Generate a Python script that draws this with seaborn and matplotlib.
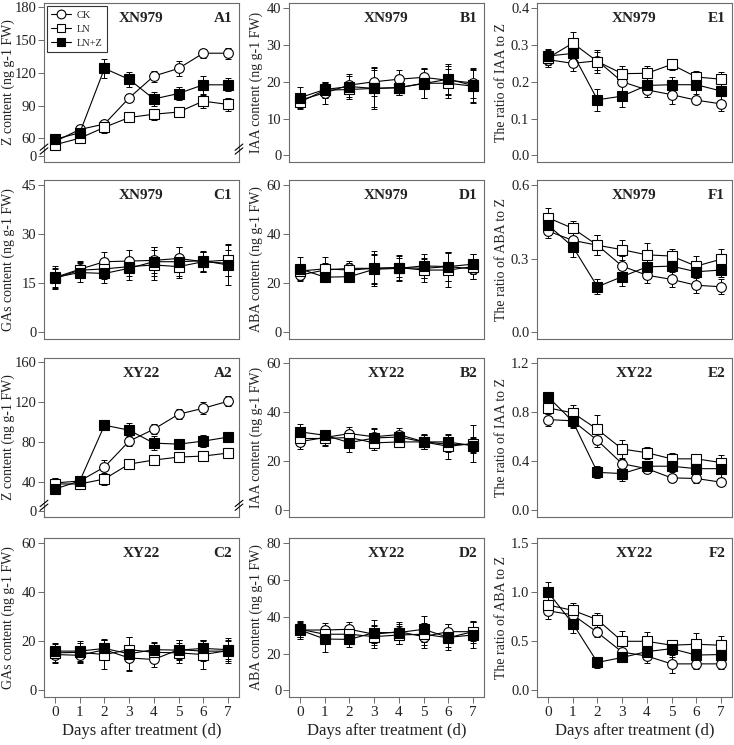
import numpy as np
import pandas as pd
import matplotlib
matplotlib.use("Agg")
import matplotlib.pyplot as plt
import seaborn as sns

# Days after treatment
days = [0, 1, 2, 3, 4, 5, 6, 7]
treatments = ["CK", "LN", "LN+Z"]

# A1 - Z content XN979
a1_ck = [57, 68, 73, 97, 117, 124, 138, 138]
a1_ln = [54, 60, 70, 79, 82, 84, 94, 91]
a1_lnz = [59, 65, 124, 114, 96, 101, 109, 109]
a1_ck_err = [3, 3, 3, 4, 5, 7, 4, 5]
a1_ln_err = [3, 3, 5, 4, 5, 5, 6, 6]
a1_lnz_err = [4, 4, 9, 7, 6, 6, 8, 6]

# B1 - IAA content XN979
b1_ck = [15.0, 17.0, 19.1, 20.0, 20.7, 21.2, 20.4, 19.7]
b1_ln = [14.5, 17.7, 17.9, 18.2, 18.4, 19.6, 19.6, 18.8]
b1_lnz = [15.7, 17.9, 18.7, 18.2, 18.4, 19.5, 20.7, 19.0]
b1_ck_err = [1.5, 3, 2.5, 4, 2.5, 2.5, 4, 4]
b1_ln_err = [1.5, 2, 2, 5, 2, 4, 4, 4.5]
b1_lnz_err = [3, 2, 3.5, 5.5, 2, 4, 4, 4.5]

# E1 - IAA/Z XN979
e1_ck = [0.26, 0.25, 0.257, 0.20, 0.178, 0.165, 0.15, 0.14]
e1_ln = [0.265, 0.305, 0.255, 0.222, 0.223, 0.247, 0.213, 0.207]
e1_lnz = [0.27, 0.277, 0.151, 0.161, 0.19, 0.192, 0.192, 0.175]
e1_ck_err = [0.02, 0.02, 0.025, 0.03, 0.02, 0.025, 0.01, 0.02]
e1_ln_err = [0.02, 0.03, 0.03, 0.02, 0.02, 0.015, 0.015, 0.02]
e1_lnz_err = [0.02, 0.02, 0.03, 0.03, 0.02, 0.02, 0.025, 0.025]

# C1 - GAs content XN979
c1_ck = [16.8, 19.3, 21.6, 21.8, 22.0, 22.6, 21.6, 21.1]
c1_ln = [16.5, 19.0, 19.4, 20.1, 20.6, 20.1, 21.6, 22.1]
c1_lnz = [16.8, 18.3, 18.0, 19.6, 21.6, 21.6, 21.9, 20.6]
c1_ck_err = [3, 2.5, 3, 3.5, 4, 3.5, 3, 4]
c1_ln_err = [3, 2.5, 3, 3, 4.5, 3.5, 3, 5]
c1_lnz_err = [3.5, 3, 3, 3.5, 4.5, 4.5, 3, 6]

# D1 - ABA content XN979
d1_ck = [23.4, 25.4, 26.1, 26.1, 26.4, 26.1, 26.8, 25.9]
d1_ln = [25.0, 25.9, 25.4, 26.1, 26.4, 25.4, 25.4, 26.8]
d1_lnz = [25.9, 22.5, 22.7, 25.7, 26.1, 27.1, 26.8, 27.8]
d1_ck_err = [2, 3, 3, 6, 4, 4, 6, 4]
d1_ln_err = [3, 5, 3, 7, 5, 5, 7, 5]
d1_lnz_err = [5, 2, 2, 6, 5, 5, 6, 4]

# F1 - ABA/Z XN979
f1_ck = [0.413, 0.375, 0.355, 0.27, 0.233, 0.216, 0.192, 0.186]
f1_ln = [0.467, 0.424, 0.355, 0.337, 0.316, 0.311, 0.27, 0.298]
f1_lnz = [0.437, 0.349, 0.186, 0.227, 0.267, 0.27, 0.247, 0.254]
f1_ck_err = [0.03, 0.03, 0.04, 0.04, 0.03, 0.03, 0.03, 0.03]
f1_ln_err = [0.04, 0.03, 0.04, 0.04, 0.05, 0.03, 0.04, 0.04]
f1_lnz_err = [0.04, 0.04, 0.03, 0.04, 0.04, 0.04, 0.04, 0.03]

# A2 - Z content XY22
a2_ck = [39, 41, 55, 81, 93, 108, 114, 121]
a2_ln = [38, 38, 43, 58, 62, 65, 66, 69]
a2_lnz = [33, 41, 97, 92, 79, 78, 81, 85]
a2_ck_err = [5, 3, 7, 5, 5, 5, 6, 5]
a2_ln_err = [3, 3, 6, 3, 5, 4, 5, 5]
a2_lnz_err = [5, 3, 5, 7, 7, 5, 6, 5]

# B2 - IAA content XY22
b2_ck = [28.0, 29.7, 31.3, 30.0, 30.9, 28.0, 26.9, 26.9]
b2_ln = [29.3, 29.3, 29.7, 27.5, 27.9, 27.9, 26.1, 27.2]
b2_lnz = [32.0, 30.6, 27.6, 29.5, 29.9, 27.9, 27.9, 26.3]
b2_ck_err = [3, 3, 2.5, 3, 2.5, 3, 3, 3]
b2_ln_err = [3, 3, 3, 3, 2, 3, 5, 7.5]
b2_lnz_err = [3, 2, 4, 4, 2, 3, 3, 3]

# E2 - IAA/Z XY22
e2_ck = [0.74, 0.73, 0.57, 0.38, 0.34, 0.265, 0.26, 0.23]
e2_ln = [0.835, 0.795, 0.66, 0.50, 0.47, 0.42, 0.42, 0.39]
e2_lnz = [0.925, 0.725, 0.31, 0.30, 0.36, 0.36, 0.34, 0.34]
e2_ck_err = [0.05, 0.05, 0.05, 0.04, 0.03, 0.03, 0.04, 0.03]
e2_ln_err = [0.05, 0.06, 0.12, 0.07, 0.05, 0.05, 0.04, 0.06]
e2_lnz_err = [0.04, 0.05, 0.05, 0.06, 0.04, 0.05, 0.05, 0.08]

# C2 - GAs content XY22
c2_ck = [14.6, 14.3, 16.6, 13.2, 12.6, 16.6, 16.0, 16.0]
c2_ln = [15.3, 15.5, 14.6, 16.6, 15.5, 15.3, 14.6, 16.2]
c2_lnz = [16.0, 16.0, 17.1, 14.9, 16.6, 16.4, 17.1, 16.6]
c2_ck_err = [3, 3, 4, 5, 3, 4, 4, 4]
c2_ln_err = [4, 4, 6, 5, 4, 4, 6, 5]
c2_lnz_err = [3, 4, 4, 7, 3, 4, 3.5, 4]

# D2 - ABA content XY22
d2_ck = [32.8, 32.8, 33.2, 30.5, 31.9, 29.2, 31.9, 31.9]
d2_ln = [33.2, 30.5, 30.5, 29.2, 30.1, 30.5, 28.6, 31.9]
d2_lnz = [32.8, 27.9, 27.7, 31.4, 31.4, 33.2, 28.8, 30.1]
d2_ck_err = [4, 4, 4, 5, 4, 6, 4, 5]
d2_ln_err = [4, 4, 4, 6, 5, 6, 5, 6]
d2_lnz_err = [5, 7, 4, 7, 6, 7, 7, 7]

# F2 - ABA/Z XY22
f2_ck = [0.81, 0.77, 0.59, 0.39, 0.35, 0.27, 0.27, 0.27]
f2_ln = [0.87, 0.815, 0.72, 0.50, 0.50, 0.46, 0.47, 0.46]
f2_lnz = [1.0, 0.68, 0.285, 0.335, 0.395, 0.425, 0.36, 0.365]
f2_ck_err = [0.08, 0.07, 0.05, 0.06, 0.07, 0.09, 0.05, 0.05]
f2_ln_err = [0.1, 0.08, 0.07, 0.1, 0.09, 0.04, 0.11, 0.09]
f2_lnz_err = [0.1, 0.1, 0.06, 0.05, 0.06, 0.08, 0.06, 0.06]

sns.set_style("ticks")
plt.rcParams["font.family"] = ["Liberation Serif", "DejaVu Serif"]

W, H = 734, 745
fig = plt.figure(figsize=(W / 100, H / 100), dpi=100)

col_left = [44, 289, 537]
col_w = 195
row_top = [3, 180, 358, 538]
row_h = 159
# x position (px) of the right edge of the rotated y label, per column
ylab_x = [15, 263, 508]

# panel table: row, col, cultivar, tag, ylabel, ticks, means, errs
panels = [
    (0, 0, "XN979", "A1", "Z content (ng g-1 FW)", [0, 60, 90, 120, 150, 180],
     [a1_ck, a1_ln, a1_lnz], [a1_ck_err, a1_ln_err, a1_lnz_err]),
    (0, 1, "XN979", "B1", "IAA content (ng g-1 FW)", [0, 10, 20, 30, 40],
     [b1_ck, b1_ln, b1_lnz], [b1_ck_err, b1_ln_err, b1_lnz_err]),
    (0, 2, "XN979", "E1", "The ratio of IAA to Z", [0.0, 0.1, 0.2, 0.3, 0.4],
     [e1_ck, e1_ln, e1_lnz], [e1_ck_err, e1_ln_err, e1_lnz_err]),
    (1, 0, "XN979", "C1", "GAs content (ng g-1 FW)", [0, 15, 30, 45],
     [c1_ck, c1_ln, c1_lnz], [c1_ck_err, c1_ln_err, c1_lnz_err]),
    (1, 1, "XN979", "D1", "ABA content (ng g-1 FW)", [0, 20, 40, 60],
     [d1_ck, d1_ln, d1_lnz], [d1_ck_err, d1_ln_err, d1_lnz_err]),
    (1, 2, "XN979", "F1", "The ratio of ABA to Z", [0.0, 0.3, 0.6],
     [f1_ck, f1_ln, f1_lnz], [f1_ck_err, f1_ln_err, f1_lnz_err]),
    (2, 0, "XY22", "A2", "Z content (ng g-1 FW)", [0, 40, 80, 120, 160],
     [a2_ck, a2_ln, a2_lnz], [a2_ck_err, a2_ln_err, a2_lnz_err]),
    (2, 1, "XY22", "B2", "IAA content (ng g-1 FW)", [0, 20, 40, 60],
     [b2_ck, b2_ln, b2_lnz], [b2_ck_err, b2_ln_err, b2_lnz_err]),
    (2, 2, "XY22", "E2", "The ratio of IAA to Z", [0.0, 0.4, 0.8, 1.2],
     [e2_ck, e2_ln, e2_lnz], [e2_ck_err, e2_ln_err, e2_lnz_err]),
    (3, 0, "XY22", "C2", "GAs content (ng g-1 FW)", [0, 20, 40, 60],
     [c2_ck, c2_ln, c2_lnz], [c2_ck_err, c2_ln_err, c2_lnz_err]),
    (3, 1, "XY22", "D2", "ABA content (ng g-1 FW)", [0, 20, 40, 60, 80],
     [d2_ck, d2_ln, d2_lnz], [d2_ck_err, d2_ln_err, d2_lnz_err]),
    (3, 2, "XY22", "F2", "The ratio of ABA to Z", [0.0, 0.5, 1.0, 1.5],
     [f2_ck, f2_ln, f2_lnz], [f2_ck_err, f2_ln_err, f2_lnz_err]),
]

# broken axis settings for the Z panels: (linear from, compression, break mark value)
breaks = {"A1": (50, 0.128, 50), "A2": (30, 0.64, 9)}

styles = {
    "CK": dict(marker="o", markerfacecolor="white"),
    "LN": dict(marker="s", markerfacecolor="white"),
    "LN+Z": dict(marker="s", markerfacecolor="black"),
}

spine_col = "#6b6b6b"
text_col = "#222222"

for row, col, cult, tag, ylab, ticks, means, errs in panels:
    left = col_left[col] / W
    bottom = 1 - (row_top[row] + row_h) / H
    ax = fig.add_axes([left, bottom, col_w / W, row_h / H])

    if tag in breaks:
        lin0, k, _ = breaks[tag]

        def fwd(y, lin0=lin0, k=k):
            y = np.asarray(y, dtype=float)
            return np.where(y >= lin0, y, lin0 - (lin0 - y) * k)

        def inv(t, lin0=lin0, k=k):
            t = np.asarray(t, dtype=float)
            return np.where(t >= lin0, t, lin0 - (lin0 - t) / k)

        ax.set_yscale("function", functions=(fwd, inv))

    df = pd.DataFrame({
        "day": days * 3,
        "value": sum(means, []),
        "err": sum(errs, []),
        "trt": np.repeat(treatments, len(days)),
    })

    for trt in treatments:
        sub = df[df["trt"] == trt]
        ax.errorbar(sub["day"], sub["value"], yerr=sub["err"], fmt="none",
                    ecolor="black", elinewidth=0.7, capsize=2, capthick=0.7, zorder=2)
        sns.lineplot(data=sub, x="day", y="value", ax=ax, color="black",
                     linewidth=0.8, markersize=7, markeredgecolor="black",
                     markeredgewidth=0.8, label=trt, legend=False, zorder=3,
                     **styles[trt])

    lo, hi = ticks[0], ticks[-1]
    ax.set_xlim(-0.45, 7.45)
    if tag in breaks:
        t_lo, t_hi = fwd(lo), hi
        span = t_hi - t_lo
        ax.set_ylim(float(inv(t_lo - 0.04 * span)), t_hi + 0.03 * span)
    else:
        span = hi - lo
        ax.set_ylim(lo - 0.045 * span, hi + 0.035 * span)
    ax.set_yticks(ticks)
    ax.set_xticks(days)

    for s in ax.spines.values():
        s.set_color(spine_col)
        s.set_linewidth(0.8)
    ax.tick_params(axis="both", direction="out", length=4, width=0.7,
                   color=spine_col, labelsize=10.5, labelcolor=text_col, pad=1.5)

    if row == 3:
        ax.set_xlabel("Days after treatment (d)", fontsize=12, color=text_col, labelpad=3)
        ax.tick_params(axis="x", labelsize=11, pad=2.5)
    else:
        ax.set_xlabel("")
        ax.tick_params(axis="x", length=0, labelbottom=False)

    ax.set_ylabel(ylab, fontsize=10, color=text_col)
    ax.yaxis.set_label_coords((ylab_x[col] - col_left[col]) / col_w, 0.5)

    ax.text(0.5, 0.9, cult, transform=ax.transAxes, ha="center", va="center",
            fontsize=11, fontweight="bold", color=text_col)
    ax.text(0.965, 0.9, tag, transform=ax.transAxes, ha="right", va="center",
            fontsize=11, fontweight="bold", color=text_col)

    if tag in breaks:
        yb = breaks[tag][2]
        yfrac = ax.transAxes.inverted().transform(ax.transData.transform((0, yb)))[1]
        for xs in (0, 1):
            for off in (-0.012, 0.012):
                ax.plot([xs - 0.02, xs + 0.02], [yfrac + off - 0.02, yfrac + off + 0.02],
                        transform=ax.transAxes, color="black", linewidth=0.8,
                        clip_on=False, zorder=5)

    if tag == "A1":
        leg = ax.legend(loc="upper left", fontsize=7.5, frameon=True, fancybox=False,
                        edgecolor="black", handlelength=1.9, handletextpad=0.5,
                        borderpad=0.45, labelspacing=0.45, borderaxespad=0.25,
                        markerscale=0.9)
        leg.get_frame().set_linewidth(0.8)

fig.savefig("out.png", dpi=100)
